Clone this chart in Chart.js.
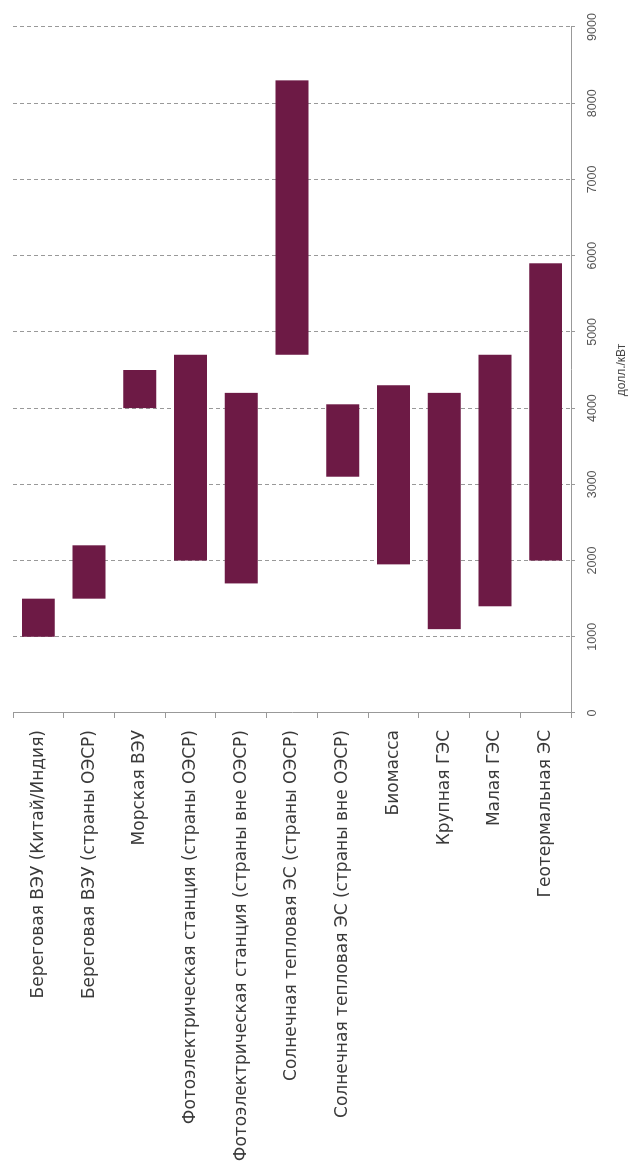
<!DOCTYPE html>
<html>
<head>
<meta charset="utf-8">
<script src="https://cdn.jsdelivr.net/npm/chart.js@4.4.1/dist/chart.umd.min.js"></script>
<style>
  html, body { margin: 0; padding: 0; background: #fff; overflow: hidden; width: 631px; height: 1174px; }
  /* chart is drawn landscape, then turned so it reads bottom-to-top */
  #wrap { position: absolute; left: 0; top: 0; width: 1174px; height: 631px;
          transform-origin: 0 0; transform: translateY(1174px) rotate(-90deg); }
</style>
</head>
<body>
<div id="wrap"><canvas id="costChart" width="1174" height="631"></canvas></div>
<script>
const categories = [
    'Береговая ВЭУ (Китай/Индия)',
    'Береговая ВЭУ (страны ОЭСР)',
    'Морская ВЭУ',
    'Фотоэлектрическая станция (страны ОЭСР)',
    'Фотоэлектрическая станция (страны вне ОЭСР)',
    'Солнечная тепловая ЭС (страны ОЭСР)',
    'Солнечная тепловая ЭС (страны вне ОЭСР)',
    'Биомасса',
    'Крупная ГЭС',
    'Малая ГЭС',
    'Геотермальная ЭС'
];
const lowValues  = [1000, 1500, 4000, 2000, 1700, 4700, 3100, 1950, 1100, 1400, 2000];
const highValues = [1500, 2200, 4500, 4700, 4200, 8300, 4050, 4300, 4200, 4700, 5900];
const valueTicks = [0, 1000, 2000, 3000, 4000, 5000, 6000, 7000, 8000, 9000];
const axisTitle = 'долл./кВт';

const ranges = categories.map((c, i) => [lowValues[i], highValues[i]]);

const ctx = document.getElementById('costChart').getContext('2d');
new Chart(ctx, {
    type: 'bar',
    data: {
        labels: categories,
        datasets: [{
            data: ranges,
            backgroundColor: '#6d1a45',
            barPercentage: 0.65,
            categoryPercentage: 1
        }]
    },
    options: {
        indexAxis: 'y',
        responsive: false,
        animation: false,
        devicePixelRatio: 1,
        layout: { padding: { top: 13, right: 27, bottom: 0, left: 0 } },
        plugins: {
            legend: { display: false },
            tooltip: { enabled: false }
        },
        scales: {
            x: {
                min: valueTicks[0],
                max: valueTicks[valueTicks.length - 1],
                afterBuildTicks: (scale) => {
                    scale.ticks = valueTicks.map(v => ({ value: v }));
                },
                afterFit: (scale) => { scale.height = 60; },
                ticks: {
                    font: { family: 'Liberation Sans', size: 12.5 },
                    color: '#555',
                    padding: 10,
                    callback: (v) => String(v)
                },
                grid: {
                    color: '#999',
                    lineWidth: 1,
                    tickLength: 4,
                    tickColor: '#999'
                },
                border: { color: '#999', dash: [4, 3] },
                title: {
                    display: true,
                    text: axisTitle,
                    font: { family: 'Liberation Sans', size: 12 },
                    color: '#444',
                    padding: { top: 0, bottom: 2 }
                }
            },
            y: {
                afterFit: (scale) => {
                    scale.width = 461;
                    scale.paddingTop = 0;
                    scale.paddingBottom = 0;
                },
                ticks: {
                    font: { family: 'DejaVu Sans', size: 17 },
                    color: '#3a3a3a',
                    padding: 12,
                    autoSkip: false
                },
                grid: {
                    offset: true,
                    drawOnChartArea: false,
                    drawTicks: true,
                    tickLength: 5,
                    color: '#999'
                },
                border: { color: '#999' }
            }
        }
    }
});
</script>
</body>
</html>
